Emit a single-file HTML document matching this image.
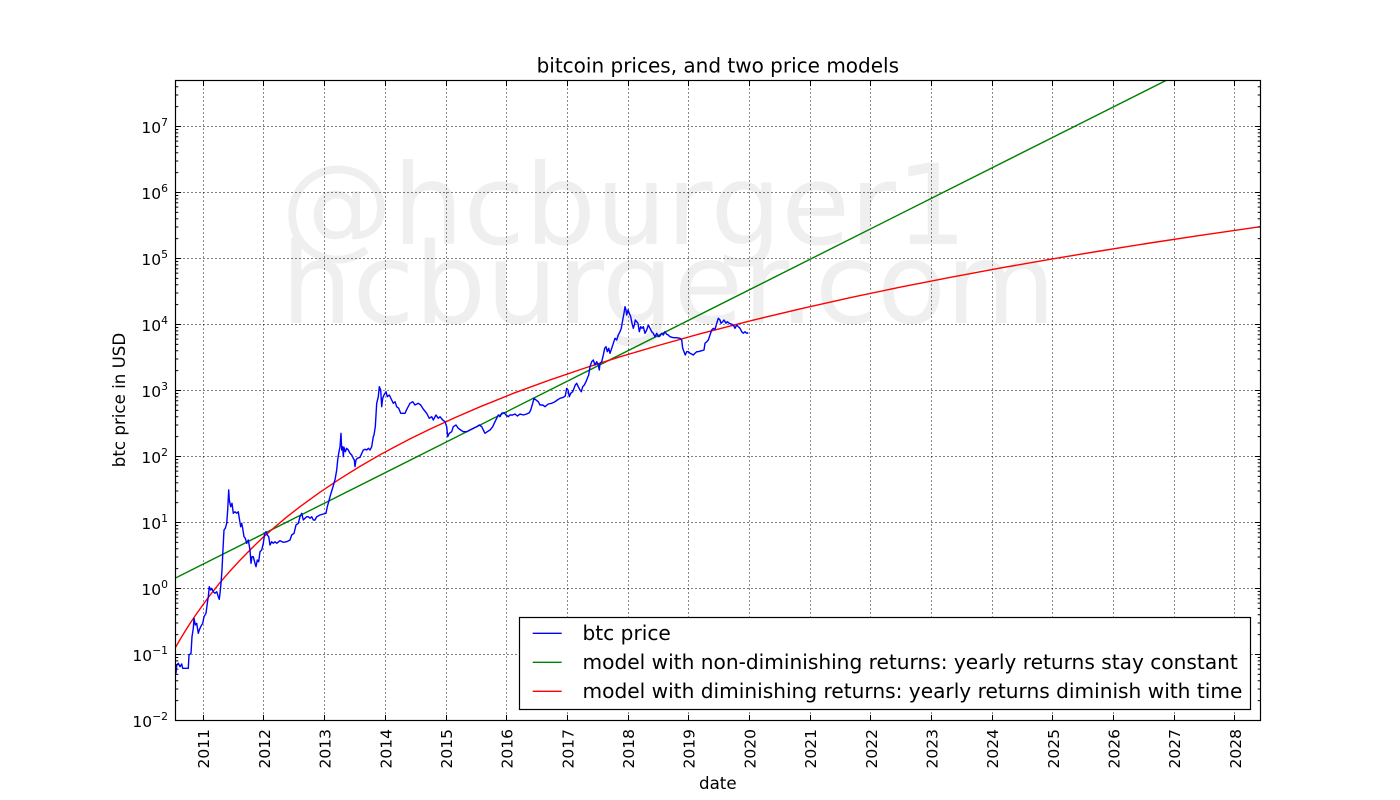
<!DOCTYPE html>
<html>
<head>
<meta charset="utf-8">
<style>
html,body{margin:0;padding:0;background:#fff;}
svg{display:block;}
text{font-family:"DejaVu Sans","Liberation Sans",sans-serif;fill:#000;}
</style>
</head>
<body>
<svg width="1400" height="800" viewBox="0 0 1400 800" xmlns="http://www.w3.org/2000/svg">
<defs>
  <clipPath id="ax"><rect x="175.5" y="80.5" width="1085" height="640"/></clipPath>
  <g id="dec">
    <path d="M175.5 -19.9h2.8M175.5 -31.5h2.8M175.5 -39.7h2.8M175.5 -46.1h2.8M175.5 -51.4h2.8M175.5 -55.8h2.8M175.5 -59.6h2.8M175.5 -63h2.8M1260.5 -19.9h-2.8M1260.5 -31.5h-2.8M1260.5 -39.7h-2.8M1260.5 -46.1h-2.8M1260.5 -51.4h-2.8M1260.5 -55.8h-2.8M1260.5 -59.6h-2.8M1260.5 -63h-2.8M175.5 0h5.6M1260.5 0h-5.6" stroke="#000" stroke-width="1" fill="none"/>
  </g>
</defs>
<rect x="0" y="0" width="1400" height="800" fill="#fff"/>

<!-- watermark -->
<g clip-path="url(#ax)">
  <text x="281" y="244" font-size="111.7" style="fill:#efefef">@hcburger1</text>
  <text x="281" y="323" font-size="112.8" style="fill:#efefef">hcburger.com</text>
</g>

<!-- grid -->
<g stroke="#000" stroke-width="0.9" stroke-dasharray="1 3" fill="none">
  <path d="M175.5 654.5H1260.5M175.5 588.5H1260.5M175.5 522.5H1260.5M175.5 456.5H1260.5M175.5 390.5H1260.5M175.5 324.5H1260.5M175.5 258.5H1260.5M175.5 192.5H1260.5M175.5 126.5H1260.5"/>
  <path d="M203.5 80.5V720.5M263.5 80.5V720.5M324.5 80.5V720.5M385.5 80.5V720.5M446.5 80.5V720.5M506.5 80.5V720.5M567.5 80.5V720.5M628.5 80.5V720.5M688.5 80.5V720.5M749.5 80.5V720.5M810.5 80.5V720.5M870.5 80.5V720.5M931.5 80.5V720.5M992.5 80.5V720.5M1052.5 80.5V720.5M1113.5 80.5V720.5M1174.5 80.5V720.5M1234.5 80.5V720.5"/>
</g>

<!-- series -->
<g clip-path="url(#ax)" fill="none" stroke-width="1.4" stroke-linejoin="round">
  <polyline stroke="#008000" points="175.5,578.0 1166,80.5"/>
  <polyline stroke="#ff0000" points="175,648.3 180,639.6 185,631.4 190,623.5 195,616.0 202,606.1 210,595.2 220,582.6 230,571.1 240,560.2 250,550.0 262,538.2 275,526.9 287,516.8 300,506.7 320,492.2 340,478.8 360,466.4 380,454.8 395,446.7 410,438.9 430,429.1 455,417.6 480,406.8 515,392.7 550,379.9 585,368.0 620,356.8 660,345.0 700,333.8 750,320.9 800,308.9 850,297.7 900,287.2 950,277.4 1000,268.1 1050,259.3 1100,251.0 1150,243.0 1200,235.4 1261,226.6"/>
  <polyline stroke="#0000ff" points="175.5,670 176.0,673.3 176.7,665.0 178.3,663.3 180.0,666.7 181.7,664.0 182.7,668.3 188.3,668.3 189.0,655.0 191.0,653.3 192.0,636.7 193.3,628.3 194.0,618.3 195.3,625.0 196.7,623.3 198.3,633.3 199.3,630.0 200.7,626.7 202.7,623.3 204.0,616.7 206.0,613.3 207.3,603.3 208.3,596.7 209.3,586.7 210.7,590.0 211.7,588.3 213.3,591.7 215.0,593.3 216.7,591.7 218.3,596.7 219.3,599.3 220.0,593.3 221.0,583.3 222.0,570.0 222.7,555.0 224.0,530.0 225.3,528.3 226.7,523.3 227.7,510.0 228.7,490.0 229.3,500.0 230.7,506.7 232.0,503.3 233.3,513.3 235.0,511.7 236.7,513.3 238.3,511.7 239.3,518.3 240.7,526.7 241.7,523.3 242.7,528.3 244.0,536.7 245.3,538.3 246.7,543.3 248.3,540.0 250.0,550.0 251.0,563.3 252.0,556.7 253.3,556.7 255.0,563.3 256.0,566.7 257.3,560.0 258.7,561.7 260.0,551.7 261.7,550.0 263.3,543.3 264.7,533.3 266.0,531.7 267.3,535.0 268.7,536.7 270.0,545.0 271.7,541.7 273.3,543.3 275.0,541.7 276.7,543.3 280.0,540.7 283.3,542.3 286.7,541.7 290.0,540.0 291.7,535.0 294.0,533.3 296.0,525.0 298.3,523.3 300.0,516.7 301.7,513.3 303.3,520.0 305.0,518.3 306.7,516.7 308.3,516.7 310.0,518.3 311.7,516.7 313.3,520.0 315.0,520.0 316.7,516.7 320.0,515.0 323.3,514.0 326.0,513.3 327.3,506.7 328.7,501.7 330.0,496.7 332.0,490.0 334.0,483.3 335.3,478.3 336.7,470.0 337.7,460.0 338.7,453.3 340.0,446.7 341.0,433.3 341.7,450.0 342.7,446.7 343.3,456.7 344.0,447.3 345.3,451.7 346.7,448.3 348.3,450.0 350.0,453.3 351.7,455.0 353.3,458.3 354.3,460.0 355.0,466.7 356.0,460.0 357.3,458.3 360.0,457.3 363.3,450.0 365.0,449.3 366.7,450.0 368.3,448.3 370.0,450.0 371.7,446.7 373.3,436.7 374.0,435.0 375.3,426.7 376.7,403.3 378.3,396.7 379.3,386.7 380.7,390.0 381.7,406.7 382.7,398.3 384.0,395.0 386.0,391.7 387.3,396.7 389.3,395.0 391.7,400.0 393.3,403.3 395.0,401.7 396.7,406.7 398.7,408.3 400.7,413.3 402.7,413.3 405.0,413.3 407.3,408.3 410.0,403.3 412.7,401.7 415.0,405.0 418.3,403.3 420.7,405.0 422.7,408.3 424.0,410.0 426.7,413.3 429.3,418.3 431.7,416.7 433.3,420.0 436.0,415.0 438.3,418.3 440.0,416.7 442.7,420.0 445.0,421.7 446.7,426.7 447.7,436.7 449.3,433.3 451.7,431.7 453.3,426.7 456.0,425.0 458.3,428.3 460.7,430.0 463.3,431.7 466.7,431.7 470.0,430.0 473.3,428.3 476.7,426.7 479.3,425.0 481.7,426.7 483.3,430.0 485.0,433.3 487.3,431.7 490.0,430.0 492.7,426.7 495.0,421.7 496.7,418.3 498.3,415.0 500.0,416.7 501.7,413.3 504.0,412.7 506.0,415.0 508.3,416.7 510.0,415.0 512.7,415.0 515.0,414.0 517.3,416.0 520.0,414.0 523.3,415.0 526.7,414.0 529.3,412.7 530.7,410.0 532.7,403.3 534.0,398.3 536.0,400.0 538.3,401.7 540.0,405.0 542.7,405.0 545.0,406.7 548.3,404.0 551.7,403.3 555.0,401.7 557.3,400.0 560.0,398.3 563.3,397.3 565.3,396.0 566.7,388.3 568.0,390.0 569.3,396.7 570.7,393.3 572.7,391.7 574.0,388.3 575.3,385.0 576.7,383.3 578.3,386.7 580.0,390.0 581.3,391.7 582.7,386.7 584.3,385.0 586.0,381.7 587.3,378.3 588.7,375.0 590.0,366.7 591.7,361.7 593.3,360.0 595.0,365.0 596.7,361.7 598.3,365.0 599.3,370.0 600.0,363.3 601.7,361.7 603.3,355.0 604.7,348.3 606.0,346.7 607.3,351.7 608.7,348.3 610.0,353.3 611.7,348.3 613.3,343.3 615.0,338.3 616.7,340.0 618.3,335.0 620.0,331.7 621.3,328.3 622.7,320.0 624.0,313.3 625.0,306.7 626.0,310.0 626.7,315.0 628.0,310.0 629.3,313.3 630.7,316.7 632.0,323.3 633.3,328.3 634.3,325.0 635.3,320.0 636.7,321.7 638.0,323.3 639.3,331.7 640.7,326.7 642.0,328.3 643.3,326.7 645.0,333.3 646.7,330.0 648.3,325.0 650.0,328.3 651.7,331.7 653.3,333.3 655.0,336.7 656.7,333.3 658.3,336.7 660.0,336.0 661.7,333.3 663.3,335.0 665.0,331.7 666.7,334.3 668.3,335.0 670.0,336.7 673.3,337.7 676.7,337.7 680.0,338.3 681.7,340.0 682.7,348.3 684.0,351.7 685.3,355.0 686.7,351.7 688.3,351.7 690.0,353.3 691.7,354.0 693.3,355.0 695.0,353.3 696.7,351.7 698.3,351.7 701.7,350.7 704.0,350.0 705.0,343.3 706.7,341.7 708.3,340.0 710.0,335.0 711.7,330.0 713.3,328.3 715.0,329.3 716.7,323.3 718.3,318.3 720.0,320.0 721.0,323.3 722.7,321.7 724.0,320.0 726.0,323.3 727.3,321.7 729.3,323.3 731.7,324.3 733.3,325.0 735.0,328.3 736.7,325.0 738.3,326.7 740.0,328.3 741.7,331.7 743.3,333.3 745.0,331.7 746.7,333.3 748.3,332.7"/>
</g>

<!-- y ticks (major + log minor) -->
<g clip-path="url(#ax)">
  <use href="#dec" y="720.5"/>
  <use href="#dec" y="654.5"/>
  <use href="#dec" y="588.5"/>
  <use href="#dec" y="522.5"/>
  <use href="#dec" y="456.5"/>
  <use href="#dec" y="390.5"/>
  <use href="#dec" y="324.5"/>
  <use href="#dec" y="258.5"/>
  <use href="#dec" y="192.5"/>
  <use href="#dec" y="126.5"/>
</g>

<!-- x ticks -->
<g stroke="#000" stroke-width="1" fill="none">
  <path d="M203.5 720.5v-5.6M263.5 720.5v-5.6M324.5 720.5v-5.6M385.5 720.5v-5.6M446.5 720.5v-5.6M506.5 720.5v-5.6M567.5 720.5v-5.6M628.5 720.5v-5.6M688.5 720.5v-5.6M749.5 720.5v-5.6M810.5 720.5v-5.6M870.5 720.5v-5.6M931.5 720.5v-5.6M992.5 720.5v-5.6M1052.5 720.5v-5.6M1113.5 720.5v-5.6M1174.5 720.5v-5.6M1234.5 720.5v-5.6"/>
  <path d="M203.5 80.5v5.6M263.5 80.5v5.6M324.5 80.5v5.6M385.5 80.5v5.6M446.5 80.5v5.6M506.5 80.5v5.6M567.5 80.5v5.6M628.5 80.5v5.6M688.5 80.5v5.6M749.5 80.5v5.6M810.5 80.5v5.6M870.5 80.5v5.6M931.5 80.5v5.6M992.5 80.5v5.6M1052.5 80.5v5.6M1113.5 80.5v5.6M1174.5 80.5v5.6M1234.5 80.5v5.6"/>
</g>

<!-- axes frame -->
<rect x="175.5" y="80.5" width="1085" height="640" fill="none" stroke="#000" stroke-width="1.2"/>

<!-- y tick labels -->
<g font-size="15.5" text-anchor="end">
  <text x="168" y="726.8">10<tspan dy="-7" font-size="10.8">−2</tspan></text>
  <text x="168" y="660.8">10<tspan dy="-7" font-size="10.8">−1</tspan></text>
  <text x="168" y="594.8">10<tspan dy="-7" font-size="10.8">0</tspan></text>
  <text x="168" y="528.8">10<tspan dy="-7" font-size="10.8">1</tspan></text>
  <text x="168" y="462.8">10<tspan dy="-7" font-size="10.8">2</tspan></text>
  <text x="168" y="396.8">10<tspan dy="-7" font-size="10.8">3</tspan></text>
  <text x="168" y="330.8">10<tspan dy="-7" font-size="10.8">4</tspan></text>
  <text x="168" y="264.8">10<tspan dy="-7" font-size="10.8">5</tspan></text>
  <text x="168" y="198.8">10<tspan dy="-7" font-size="10.8">6</tspan></text>
  <text x="168" y="132.8">10<tspan dy="-7" font-size="10.8">7</tspan></text>
</g>

<!-- x tick labels -->
<g font-size="15.5" text-anchor="end">
  <text transform="translate(209.2,729) rotate(-90)">2011</text>
  <text transform="translate(269.8,729) rotate(-90)">2012</text>
  <text transform="translate(330.7,729) rotate(-90)">2013</text>
  <text transform="translate(391.3,729) rotate(-90)">2014</text>
  <text transform="translate(452.0,729) rotate(-90)">2015</text>
  <text transform="translate(512.6,729) rotate(-90)">2016</text>
  <text transform="translate(573.4,729) rotate(-90)">2017</text>
  <text transform="translate(634.1,729) rotate(-90)">2018</text>
  <text transform="translate(694.7,729) rotate(-90)">2019</text>
  <text transform="translate(755.3,729) rotate(-90)">2020</text>
  <text transform="translate(816.1,729) rotate(-90)">2021</text>
  <text transform="translate(876.8,729) rotate(-90)">2022</text>
  <text transform="translate(937.4,729) rotate(-90)">2023</text>
  <text transform="translate(998.1,729) rotate(-90)">2024</text>
  <text transform="translate(1058.9,729) rotate(-90)">2025</text>
  <text transform="translate(1119.5,729) rotate(-90)">2026</text>
  <text transform="translate(1180.2,729) rotate(-90)">2027</text>
  <text transform="translate(1240.8,729) rotate(-90)">2028</text>
</g>

<!-- title & axis labels -->
<text x="717.8" y="72.5" font-size="20" text-anchor="middle">bitcoin prices, and two price models</text>
<text x="717.8" y="789" font-size="16.67" text-anchor="middle">date</text>
<text transform="translate(125,400) rotate(-90)" font-size="16.67" text-anchor="middle">btc price in USD</text>

<!-- legend -->
<rect x="519.5" y="617.5" width="731" height="92" fill="#fff" stroke="#000" stroke-width="1.2"/>
<g stroke-width="1.4">
  <line x1="532.7" y1="633.3" x2="561.7" y2="633.3" stroke="#0000ff"/>
  <line x1="532.7" y1="662.3" x2="561.7" y2="662.3" stroke="#008000"/>
  <line x1="532.7" y1="691.3" x2="561.7" y2="691.3" stroke="#ff0000"/>
</g>
<g font-size="20.15">
  <text x="582.5" y="639.8">btc price</text>
  <text x="582.5" y="668.8">model with non-diminishing returns: yearly returns stay constant</text>
  <text x="582.5" y="697.8">model with diminishing returns: yearly returns diminish with time</text>
</g>
</svg>
</body>
</html>
